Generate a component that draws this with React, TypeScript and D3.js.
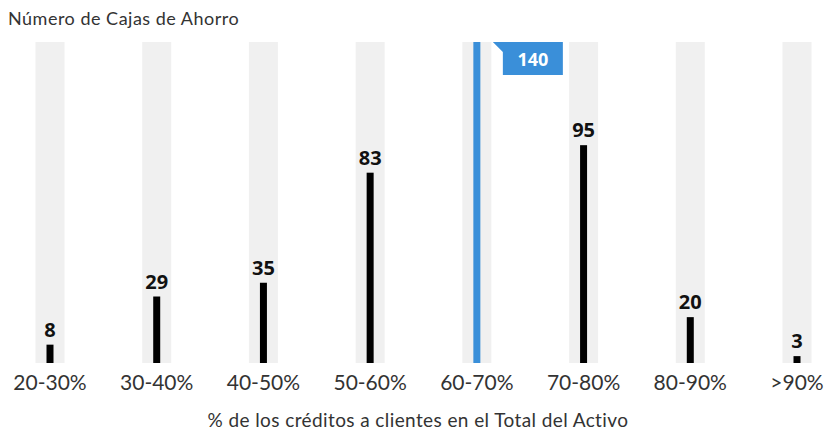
import React from "react";
import * as d3 from "d3";

const categories = ["20-30%", "30-40%", "40-50%", "50-60%", "60-70%", "70-80%", "80-90%", ">90%"];
const values = [8, 29, 35, 83, 140, 95, 20, 3];
const highlightIndex = 4;
const title = "Número de Cajas de Ahorro";
const xTitle = "% de los créditos a clientes en el Total del Activo";

const W = 826;
const H = 431;

export default function App() {
  const x = d3.scalePoint<string>().domain(categories).range([50, 797]);
  const y = d3.scaleLinear().domain([0, 140]).range([363, 42]);
  const font = "Lato, 'Open Sans', sans-serif";
  const bandW = 29;
  const barW = 7;
  const blue = "#3a8fd9";

  return (
    <svg width={W} height={H} style={{ position: "absolute", left: 0, top: 0, background: "#fff" }}>
      <text x={8} y={25} fontFamily={font} fontSize={18} letterSpacing={0.5} fill="#333">{title}</text>
      {categories.map((c) => (
        <rect key={"band" + c} x={x(c)! - bandW / 2} y={y(140)} width={bandW} height={y(0) - y(140)} fill="#f0f0f0" />
      ))}
      {categories.map((c, i) => {
        const v = values[i];
        const hl = i === highlightIndex;
        return (
          <g key={"bar" + c}>
            <rect x={x(c)! - barW / 2} y={y(v)} width={barW} height={y(0) - y(v)} fill={hl ? blue : "#000"} />
            {hl ? (
              <g>
                <path
                  d={`M${x(c)! + 16},${y(v)} L${x(c)! + 86},${y(v)} L${x(c)! + 86},${y(v) + 33} L${x(c)! + 26},${y(v) + 33} L${x(c)! + 26},${y(v) + 10} Z`}
                  fill={blue}
                />
                <text x={x(c)! + 56} y={y(v) + 24} textAnchor="middle" fontFamily="'Open Sans', sans-serif" fontWeight={700} fontSize={18} fill="#fff">{v}</text>
              </g>
            ) : (
              <text x={x(c)!} y={y(v) - 8} textAnchor="middle" fontFamily="'Open Sans', sans-serif" fontWeight={700} fontSize={20} fill="#111">{v}</text>
            )}
          </g>
        );
      })}
      {categories.map((c) => (
        <text key={"lab" + c} x={x(c)!} y={390} textAnchor="middle" fontFamily={font} fontSize={21} fill="#333">{c}</text>
      ))}
      <text x={418} y={427} textAnchor="middle" fontFamily={font} fontSize={19} letterSpacing={0.4} fill="#333">{xTitle}</text>
    </svg>
  );
}
